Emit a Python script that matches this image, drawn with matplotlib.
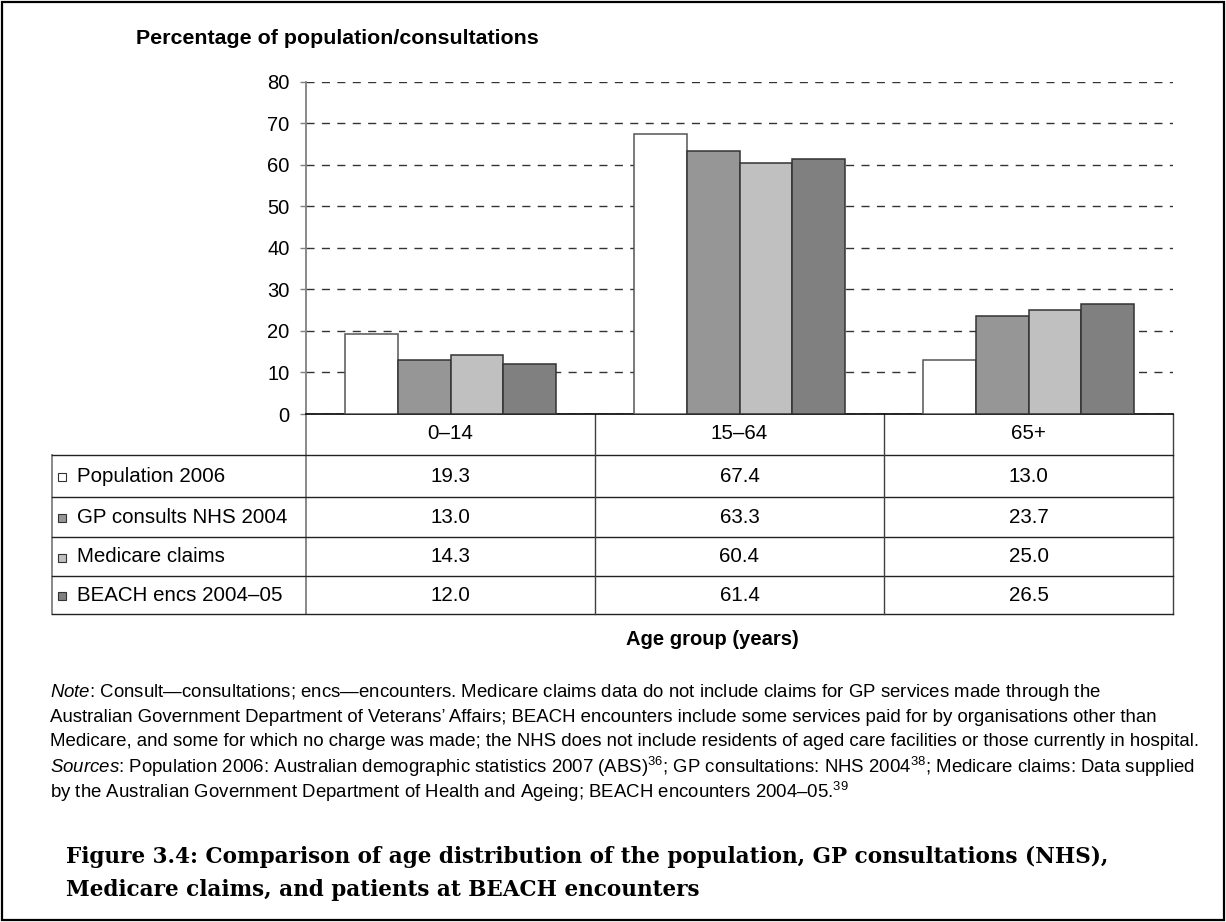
import matplotlib
matplotlib.use("Agg")
import matplotlib.pyplot as plt
from matplotlib.patches import Rectangle
from matplotlib.transforms import blended_transform_factory
import numpy as np

# ---- data -------------------------------------------------------------
age_groups = ["0–14", "15–64", "65+"]
series_names = ["Population 2006", "GP consults NHS 2004",
                "Medicare claims", "BEACH encs 2004–05"]
population_2006 = [19.3, 67.4, 13.0]
gp_consults_nhs_2004 = [13.0, 63.3, 23.7]
medicare_claims = [14.3, 60.4, 25.0]
beach_encs_2004_05 = [12.0, 61.4, 26.5]
series_values = [population_2006, gp_consults_nhs_2004,
                 medicare_claims, beach_encs_2004_05]
series_colors = ["#ffffff", "#969696", "#c0c0c0", "#808080"]
y_ticks = [0, 10, 20, 30, 40, 50, 60, 70, 80]

y_title = "Percentage of population/consultations"
x_title = "Age group (years)"
note_lines = [
    r"$\mathit{Note}$: Consult—consultations; encs—encounters. Medicare claims data do not include claims for GP services made through the",
    "Australian Government Department of Veterans’ Affairs; BEACH encounters include some services paid for by organisations other than",
    "Medicare, and some for which no charge was made; the NHS does not include residents of aged care facilities or those currently in hospital.",
    r"$\mathit{Sources}$: Population 2006: Australian demographic statistics 2007 (ABS)$^{36}$; GP consultations: NHS 2004$^{38}$; Medicare claims: Data supplied",
    r"by the Australian Government Department of Health and Ageing; BEACH encounters 2004–05.$^{39}$",
]
caption_lines = [
    "Figure 3.4: Comparison of age distribution of the population, GP consultations (NHS),",
    "Medicare claims, and patients at BEACH encounters",
]

# ---- style ------------------------------------------------------------
plt.rcParams["font.family"] = ["Liberation Sans", "DejaVu Sans"]
plt.rcParams["mathtext.fontset"] = "custom"
plt.rcParams["mathtext.rm"] = "Liberation Sans"
plt.rcParams["mathtext.it"] = "Liberation Sans:italic"
plt.rcParams["mathtext.bf"] = "Liberation Sans:bold"
plt.rcParams["mathtext.default"] = "regular"

W, H = 1226, 922
fig = plt.figure(figsize=(W / 100, H / 100), dpi=100)
fig.patch.set_facecolor("white")

# page-level axes in pixel units (origin top-left)
page = fig.add_axes([0, 0, 1, 1], zorder=0)
page.set_xlim(0, W)
page.set_ylim(H, 0)
page.axis("off")

# chart axes
x0, x1 = 306, 1173
y_top, y_zero = 81.7, 414
ax = fig.add_axes([x0 / W, 1 - y_zero / H, (x1 - x0) / W, (y_zero - y_top) / H],
                  zorder=1)
ax.patch.set_visible(False)

n_series = len(series_values)
bar_w = 0.182
x = np.arange(len(age_groups))
for i, (vals, col) in enumerate(zip(series_values, series_colors)):
    edge = "#555555" if col == "#ffffff" else "#333333"
    ax.bar(x + (i - (n_series - 1) / 2) * bar_w, vals, width=bar_w,
           color=col, edgecolor=edge, linewidth=1.1, zorder=3)

ax.set_xlim(-0.5, len(age_groups) - 0.5)
ax.set_ylim(0, 80)
ax.set_yticks(y_ticks)
ax.set_xticks([])
ax.tick_params(axis="y", length=4.3, width=1, color="#808080",
               labelsize=14.5, pad=7.5, labelcolor="black")
ax.yaxis.grid(True, linestyle=(0, (5.8, 5.3)), color="#333333", linewidth=1)
ax.set_axisbelow(True)
for side in ("top", "right"):
    ax.spines[side].set_visible(False)
ax.spines["left"].set_color("#808080")
ax.spines["left"].set_linewidth(1.3)
ax.spines["bottom"].set_color("black")
ax.spines["bottom"].set_linewidth(1.2)

# y-axis title
page.text(136, 38, y_title, fontsize=15.4, fontweight="bold",
          ha="left", va="center")

# ---- data table under the chart -------------------------------------
colx = blended_transform_factory(ax.transData, page.transData)
tbl_left = 52
header_bottom = 455
row_edges = [455, 497, 537, 576, 614]

# vertical grid of the table
page.plot([x0, x0], [y_zero, row_edges[-1]], color="#808080", lw=1.3)
for b in np.arange(len(age_groups) - 1) + 0.5:
    ax.plot([b, b], [y_zero, row_edges[-1]], transform=colx,
            color="#404040", lw=1, clip_on=False)
page.plot([x1, x1], [y_zero, row_edges[-1]], color="#404040", lw=1)
page.plot([tbl_left, tbl_left], [row_edges[0], row_edges[-1]],
          color="#808080", lw=1.3)
# horizontal lines
for yy in row_edges:
    page.plot([tbl_left, x1], [yy, yy], color="#222222", lw=1)

# header labels
for i, g in enumerate(age_groups):
    ax.text(i, (y_zero + header_bottom) / 2 - 1, g, transform=colx,
            ha="center", va="center", fontsize=14.8)

# rows
for r, (name, vals, col) in enumerate(zip(series_names, series_values, series_colors)):
    yc = (row_edges[r] + row_edges[r + 1]) / 2
    page.add_patch(Rectangle((58, yc - 3), 8, 8, facecolor=col,
                             edgecolor="#333333", lw=0.8))
    page.text(77, yc, name, ha="left", va="center", fontsize=14.8)
    for i, v in enumerate(vals):
        ax.text(i, yc, f"{v:.1f}", transform=colx, ha="center",
                va="center", fontsize=14.8)

# x-axis title
page.text(712, 639, x_title, fontsize=14.5, fontweight="bold",
          ha="center", va="center")

# notes and sources
note_y = [692, 717, 741, 767, 792]
for yy, line in zip(note_y, note_lines):
    page.text(50, yy, line, fontsize=13.4, ha="left", va="center")

# figure caption
for k, line in enumerate(caption_lines):
    page.text(66, 857 + k * 33, line, fontsize=15.5, fontweight="bold",
              family="DejaVu Serif", ha="left", va="center")

# outer frame
page.add_patch(Rectangle((2, 2), W - 4, H - 4, fill=False,
                         edgecolor="black", lw=1.6))

fig.savefig("out.png", dpi=100, facecolor="white")
